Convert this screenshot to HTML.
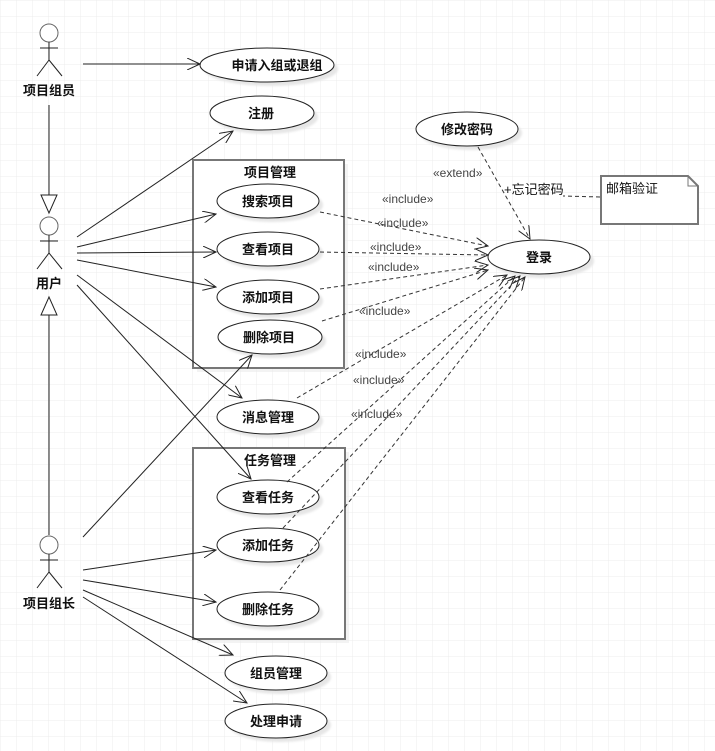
<!DOCTYPE html>
<html><head><meta charset="utf-8"><style>
html,body{margin:0;padding:0;background:#fff;}
svg{display:block;}
text{font-family:"Liberation Sans","Noto Sans CJK SC",sans-serif;}
.b{font-weight:bold;font-size:13px;fill:#111;}
.i{font-size:12px;fill:#444;}
</style></head><body>
<svg width="715" height="751" viewBox="0 0 715 751" xmlns="http://www.w3.org/2000/svg">
<defs>
<pattern id="g" width="16" height="16" patternUnits="userSpaceOnUse"><path d="M16 0H0V16" fill="none" stroke="#ececec" stroke-width="1"/></pattern>
<marker id="a" markerWidth="14" markerHeight="12" refX="13" refY="6" orient="auto" markerUnits="userSpaceOnUse"><path d="M0,0 L13,6 L0,12" fill="none" stroke="#222" stroke-width="1"/></marker>
<filter id="s" x="-20%" y="-20%" width="150%" height="160%"><feOffset dx="4" dy="4"/><feGaussianBlur stdDeviation="1"/></filter>
</defs>
<rect width="715" height="751" fill="url(#g)"/>

<!-- actors -->
<g stroke="#222" fill="none" stroke-width="1">
<circle cx="49" cy="33" r="9" stroke="#666" fill="#fff"/><path d="M49 42V60M40 48H58M49 60L37 76M49 60L62 76"/>
<circle cx="49" cy="226" r="9" stroke="#666" fill="#fff"/><path d="M49 235V253M40 241H58M49 253L37 269M49 253L62 269"/>
<circle cx="49" cy="545" r="9" stroke="#666" fill="#fff"/><path d="M49 554V572M40 560H58M49 572L37 588M49 572L62 588"/>
<path d="M49 105V195M49 315V535"/>
<path d="M41 195H57L49 213Z" fill="#fff"/>
<path d="M41 315H57L49 297Z" fill="#fff"/>
</g>
<text class="b" x="49" y="95" text-anchor="middle">项目组员</text>
<text class="b" x="49" y="288" text-anchor="middle">用户</text>
<text class="b" x="49" y="608" text-anchor="middle">项目组长</text>

<!-- boxes -->
<rect x="197" y="164" width="151" height="208" fill="#ebebeb" opacity="0.6"/>
<rect x="193" y="160" width="151" height="208" fill="#fff" stroke="#777" stroke-width="2"/>
<rect x="197" y="452" width="152" height="191" fill="#ebebeb" opacity="0.6"/>
<rect x="193" y="448" width="152" height="191" fill="#fff" stroke="#777" stroke-width="2"/>
<text class="b" x="270" y="177" text-anchor="middle">项目管理</text>
<text class="b" x="270" y="465" text-anchor="middle">任务管理</text>

<!-- ellipses -->
<g>
<g fill="#e6e6e6" filter="url(#s)">
<ellipse cx="267" cy="65" rx="67" ry="17"/><ellipse cx="262" cy="113" rx="52" ry="17"/>
<ellipse cx="268" cy="201" rx="51" ry="17"/><ellipse cx="268" cy="249" rx="51" ry="17"/>
<ellipse cx="268" cy="297" rx="51" ry="17"/><ellipse cx="270" cy="337" rx="52" ry="17"/>
<ellipse cx="268" cy="417" rx="51" ry="17"/><ellipse cx="268" cy="497" rx="51" ry="17"/>
<ellipse cx="268" cy="545" rx="51" ry="17"/><ellipse cx="268" cy="609" rx="51" ry="17"/>
<ellipse cx="276" cy="673" rx="51" ry="17"/><ellipse cx="276" cy="721" rx="51" ry="17"/>
<ellipse cx="467" cy="129" rx="51" ry="17"/><ellipse cx="539" cy="257" rx="51" ry="17"/>
</g>
<g fill="#fff" stroke="#222" stroke-width="1">
<ellipse cx="267" cy="65" rx="67" ry="17"/><ellipse cx="262" cy="113" rx="52" ry="17"/>
<ellipse cx="268" cy="201" rx="51" ry="17"/><ellipse cx="268" cy="249" rx="51" ry="17"/>
<ellipse cx="268" cy="297" rx="51" ry="17"/><ellipse cx="270" cy="337" rx="52" ry="17"/>
<ellipse cx="268" cy="417" rx="51" ry="17"/><ellipse cx="268" cy="497" rx="51" ry="17"/>
<ellipse cx="268" cy="545" rx="51" ry="17"/><ellipse cx="268" cy="609" rx="51" ry="17"/>
<ellipse cx="276" cy="673" rx="51" ry="17"/><ellipse cx="276" cy="721" rx="51" ry="17"/>
<ellipse cx="467" cy="129" rx="51" ry="17"/><ellipse cx="539" cy="257" rx="51" ry="17"/>
</g>
</g>
<g class="b" text-anchor="middle">
<text class="b" x="277" y="70">申请入组或退组</text>
<text class="b" x="261" y="118">注册</text>
<text class="b" x="268" y="206">搜索项目</text>
<text class="b" x="268" y="254">查看项目</text>
<text class="b" x="268" y="302">添加项目</text>
<text class="b" x="269" y="342">删除项目</text>
<text class="b" x="268" y="422">消息管理</text>
<text class="b" x="268" y="502">查看任务</text>
<text class="b" x="268" y="550">添加任务</text>
<text class="b" x="268" y="614">删除任务</text>
<text class="b" x="276" y="678">组员管理</text>
<text class="b" x="276" y="726">处理申请</text>
<text class="b" x="467" y="134">修改密码</text>
<text class="b" x="539" y="262">登录</text>
</g>

<!-- association lines -->
<g stroke="#222" stroke-width="1" fill="none" marker-end="url(#a)">
<path d="M83 64H200"/>
<path d="M77 237L233 131"/>
<path d="M77 247L216 214"/>
<path d="M77 253L216 252"/>
<path d="M77 260L216 287"/>
<path d="M77 275L242 398"/>
<path d="M77 285L251 479"/>
<path d="M83 537L252 355"/>
<path d="M83 570L216 550"/>
<path d="M83 580L216 602"/>
<path d="M83 590L233 655"/>
<path d="M83 597L247 703"/>
</g>

<!-- dashed include -->
<g stroke="#333" stroke-width="1" fill="none" stroke-dasharray="4,3" marker-end="url(#a)">
<path d="M320 212L488 246"/>
<path d="M320 252L488 255"/>
<path d="M320 289L488 265"/>
<path d="M322 321L488 270"/>
<path d="M297 398L507 275"/>
<path d="M287 482L515 276"/>
<path d="M283 528L520 276"/>
<path d="M280 590L525 277"/>
<path d="M478 147L530 239"/>
</g>
<path d="M600 197L563 196" stroke="#333" stroke-dasharray="4,3"/>
<g class="i">
<text x="433" y="177">«extend»</text>
<text x="382" y="203">«include»</text>
<text x="377" y="227">«include»</text>
<text x="370" y="251">«include»</text>
<text x="368" y="271">«include»</text>
<text x="359" y="315">«include»</text>
<text x="355" y="358">«include»</text>
<text x="353" y="384">«include»</text>
<text x="351" y="418">«include»</text>
</g>
<text x="504" y="194" style="font-size:13px;fill:#111">+忘记密码</text>

<!-- note -->
<path d="M601 176H688L698 186V224H601Z" fill="#fff" stroke="#777" stroke-width="2"/>
<path d="M688 176V186H698" fill="none" stroke="#777"/>
<text x="606" y="193" style="font-size:13px;fill:#111">邮箱验证</text>
</svg>
</body></html>
